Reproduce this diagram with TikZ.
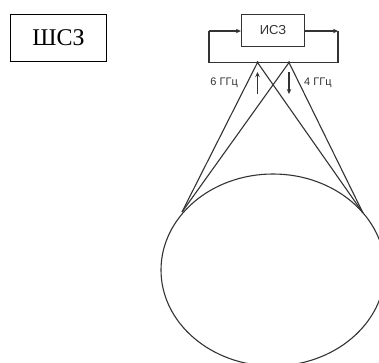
\documentclass[tikz,border=0pt]{standalone}
\usepackage{fontspec}
\setmainfont{Liberation Serif}
\setsansfont{Liberation Sans}
\usetikzlibrary{arrows.meta,shapes.geometric}
\definecolor{ink}{HTML}{333333}
\begin{document}
\begin{tikzpicture}[x=1pt,y=-1pt,
  wire/.style={draw=ink,line width=1.1pt},
  flow/.style={wire,-{Stealth[length=5pt,width=4.5pt]}},
  satbox/.style={draw=ink,line width=1.3pt,minimum width=63pt,minimum height=32pt,inner sep=0pt,font=\sffamily\fontsize{13}{13}\selectfont,text=ink},
  titlebox/.style={draw=black,line width=1.5pt,minimum width=96pt,minimum height=47pt,inner sep=0pt,font=\rmfamily\fontsize{24}{24}\selectfont},
  freq/.style={font=\sffamily\fontsize{11}{11}\selectfont,text=ink,inner sep=0pt},
  junction/.style={circle,fill=ink,minimum size=3pt,inner sep=0pt}]
\useasboundingbox (0,0) rectangle (379,362);

% system label
\node[titlebox] (title) at (58.5,38) {ШСЗ};

% satellite transponder
\node[satbox] (sat) at (273,30.5) {ИСЗ};

% loop corners and antenna points
\coordinate (lt) at (209,31);
\coordinate (lb) at (209,62.5);
\coordinate (rt) at (338,31);
\coordinate (rb) at (338,62.5);
\node[junction] (up) at (257.5,62.5) {};
\node[junction] (down) at (289,62.5) {};

\draw[wire] (rb) -- (lb) -- (lt);
\draw[flow] (lt) -- (sat.west |- lt);
\draw[flow] (sat.east |- rt) -- (rt);
\draw[wire] (rt) -- (rb);

% service area on the Earth
\node[draw=ink,line width=1.1pt,ellipse,minimum width=224pt,minimum height=192pt,inner sep=0pt] (earth) at (273,270) {};
\coordinate (edgeL) at (182,212);
\coordinate (edgeR) at (363,213);

% beams between the satellite and the area edges
\draw[wire] (up.center) -- (edgeL);
\draw[wire] (up.center) -- (edgeR);
\draw[wire] (down.center) -- (edgeL);
\draw[wire] (down.center) -- (edgeR);

% uplink and downlink directions
\coordinate (upS) at (257.5,94);
\coordinate (upE) at (257.5,72);
\coordinate (dnS) at (289,72);
\coordinate (dnE) at (289,94);
\draw[flow] (upS) -- (upE);
\draw[flow] (dnS) -- (dnE);
\node[freq,anchor=east] (f6) at (238,83) {6 ГГц};
\node[freq,anchor=west] (f4) at (304,83) {4 ГГц};
\end{tikzpicture}
\end{document}
